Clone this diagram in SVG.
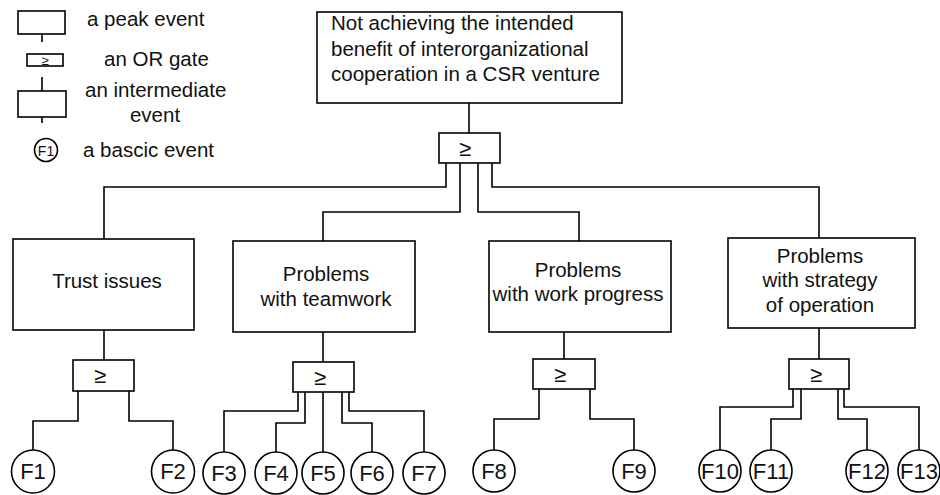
<svg xmlns="http://www.w3.org/2000/svg" width="940" height="495" viewBox="0 0 940 495">
<style>
.b{fill:#fff;stroke:#000;stroke-width:1.6}
.l{fill:none;stroke:#000;stroke-width:1.6}
text{font-family:"Liberation Sans",Arial,sans-serif;fill:#111}
.t{font-size:20.5px}
.c{text-anchor:middle}
.f{font-size:22px;text-anchor:middle}
.g{font-size:22px;text-anchor:middle}
</style>
<rect width="940" height="495" fill="#fff"/>
<g id="legend">
<rect class="b" x="18" y="11" width="47" height="23"/>
<path class="l" d="M42 34V42"/>
<text class="t" x="87" y="26">a peak event</text>
<rect class="b" x="27" y="54" width="36" height="12"/>
<text x="45" y="64.5" font-size="13" text-anchor="middle">≥</text>
<text class="t" x="104" y="66">an OR gate</text>
<path class="l" d="M42 77V91M42 117V123"/>
<rect class="b" x="18" y="91" width="48" height="26"/>
<text class="t" x="85" y="97">an intermediate</text>
<text class="t c" x="155" y="122">event</text>
<circle class="b" cx="46" cy="150" r="11.5"/>
<text x="46" y="155.5" font-size="14" text-anchor="middle">F1</text>
<text class="t" x="83" y="157">a bascic event</text>
</g>
<g id="connectors">
<path class="l" d="M469 103V133"/>
<path class="l" d="M446 163V187H104V239"/>
<path class="l" d="M460 163V212H323V241"/>
<path class="l" d="M478 163V212H579V241"/>
<path class="l" d="M492 163V187H819V238"/>
<path class="l" d="M104 330V360"/>
<path class="l" d="M78 391V421H33V450"/>
<path class="l" d="M129 391V421H173V450"/>
<path class="l" d="M323 332V362"/>
<path class="l" d="M298 392V411H224V452"/>
<path class="l" d="M305 392V423H276V452"/>
<path class="l" d="M323 392V452"/>
<path class="l" d="M342 392V423H372V452"/>
<path class="l" d="M349 392V411H424V452"/>
<path class="l" d="M564 332V359"/>
<path class="l" d="M539 389V419H494V450"/>
<path class="l" d="M590 389V419H634V450"/>
<path class="l" d="M819 328V359"/>
<path class="l" d="M793 389V407H720V450"/>
<path class="l" d="M801 389V419H771V450"/>
<path class="l" d="M838 389V419H867V450"/>
<path class="l" d="M844 389V407H919V450"/>
</g>
<g id="top">
<rect class="b" x="317" y="12" width="305" height="91"/>
<text class="t" x="331" y="30">Not achieving the intended</text>
<text class="t" x="331" y="56">benefit of interorganizational</text>
<text class="t" x="331" y="81">cooperation in a CSR venture</text>
</g>
<g id="gate0"><rect class="b" x="439" y="133" width="61" height="30"/><text class="g" x="465" y="156">≥</text></g>
<g id="trust"><rect class="b" x="13" y="239" width="181" height="91"/><text class="t c" x="107" y="288">Trust issues</text></g>
<g id="teamwork"><rect class="b" x="233" y="241" width="182" height="91"/><text class="t c" x="326" y="281">Problems</text><text class="t c" x="326" y="306">with teamwork</text></g>
<g id="progress"><rect class="b" x="489" y="241" width="182" height="91"/><text class="t c" x="578" y="277">Problems</text><text class="t c" x="578" y="301">with work progress</text></g>
<g id="strategy"><rect class="b" x="728" y="238" width="187" height="90"/><text class="t c" x="820" y="263">Problems</text><text class="t c" x="820" y="287">with strategy</text><text class="t c" x="820" y="312">of operation</text></g>
<g id="gate1"><rect class="b" x="73" y="360" width="61" height="31"/><text class="g" x="100" y="383">≥</text></g>
<g id="gate2"><rect class="b" x="293" y="362" width="61" height="30"/><text class="g" x="320" y="385">≥</text></g>
<g id="gate3"><rect class="b" x="533" y="359" width="62" height="30"/><text class="g" x="560" y="382">≥</text></g>
<g id="gate4"><rect class="b" x="789" y="359" width="60" height="30"/><text class="g" x="816" y="382">≥</text></g>
<g id="F1"><circle class="b" cx="33" cy="471.5" r="21.5"/><text class="f" x="33" y="479">F1</text></g>
<g id="F2"><circle class="b" cx="173" cy="471.5" r="21.5"/><text class="f" x="173" y="479">F2</text></g>
<g id="F3"><circle class="b" cx="224" cy="473" r="21"/><text class="f" x="224" y="480.5">F3</text></g>
<g id="F4"><circle class="b" cx="276" cy="473" r="21"/><text class="f" x="276" y="480.5">F4</text></g>
<g id="F5"><circle class="b" cx="323" cy="473" r="21"/><text class="f" x="323" y="480.5">F5</text></g>
<g id="F6"><circle class="b" cx="372" cy="473" r="21"/><text class="f" x="372" y="480.5">F6</text></g>
<g id="F7"><circle class="b" cx="424" cy="473" r="21"/><text class="f" x="424" y="480.5">F7</text></g>
<g id="F8"><circle class="b" cx="494" cy="471" r="21"/><text class="f" x="494" y="478.5">F8</text></g>
<g id="F9"><circle class="b" cx="634" cy="471" r="21"/><text class="f" x="634" y="478.5">F9</text></g>
<g id="F10"><circle class="b" cx="720" cy="471" r="21"/><text class="f" x="720" y="478.5">F10</text></g>
<g id="F11"><circle class="b" cx="771" cy="471" r="21"/><text class="f" x="771" y="478.5">F11</text></g>
<g id="F12"><circle class="b" cx="867" cy="471" r="21"/><text class="f" x="867" y="478.5">F12</text></g>
<g id="F13"><circle class="b" cx="919" cy="471" r="21"/><text class="f" x="919" y="478.5">F13</text></g>
</svg>
